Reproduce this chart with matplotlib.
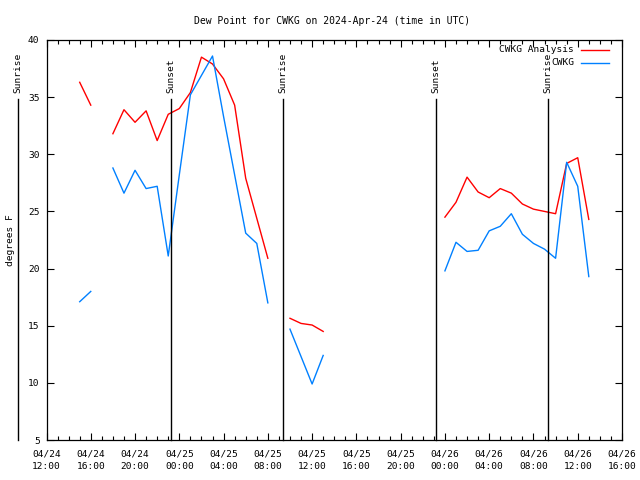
import numpy as np
import matplotlib
matplotlib.use("Agg")
import matplotlib.pyplot as plt
from matplotlib.ticker import MultipleLocator

plt.rcParams['font.family'] = ['DejaVu Sans Mono']

nan = np.nan
# hours since 2024-04-24 12:00 UTC
hours = list(range(3, 50))
analysis = [36.3, 34.3, nan, 31.8, 33.9, 32.8, 33.8, 31.2, 33.5, 34.0, 35.4, 38.5, 37.9, 36.6,
            34.3, 27.9, 24.4, 20.9, nan, 15.65, 15.2, 15.06, 14.5,
            nan, nan, nan, nan, nan, nan, nan, nan, nan, nan,
            24.5, 25.8, 28.0, 26.7, 26.2, 27.0, 26.6, 25.65, 25.2, 25.0, 24.8, 29.2, 29.7, 24.3]
observed = [17.1, 18.0, nan, 28.8, 26.6, 28.6, 27.0, 27.2, 21.1, 28.2, 35.2, 36.9, 38.6, 33.3,
            28.2, 23.1, 22.2, 17.0, nan, 14.7, 12.3, 9.9, 12.4,
            nan, nan, nan, nan, nan, nan, nan, nan, nan, nan,
            19.8, 22.3, 21.5, 21.6, 23.3, 23.7, 24.8, 23.0, 22.2, 21.7, 20.9, 29.3, 27.2, 19.3]

sun_events = ["Sunrise", "Sunset", "Sunrise", "Sunset", "Sunrise"]
sun_hours = [-2.57, 11.22, 21.36, 35.16, 45.33]

tick_hours = list(range(0, 53, 4))
tick_labels = ["04/24\n12:00", "04/24\n16:00", "04/24\n20:00", "04/25\n00:00", "04/25\n04:00",
               "04/25\n08:00", "04/25\n12:00", "04/25\n16:00", "04/25\n20:00", "04/26\n00:00",
               "04/26\n04:00", "04/26\n08:00", "04/26\n12:00", "04/26\n16:00"]

series_names = ["CWKG Analysis", "CWKG"]
colors = ["#ff0000", "#0080ff"]

fig = plt.figure(figsize=(6.4, 4.8), dpi=100)
L, R, T, B = 46.5, 622.0, 40.0, 440.0
ax = fig.add_axes([L / 640, 1 - B / 480, (R - L) / 640, (B - T) / 480])

ax.plot(hours, analysis, color=colors[0], lw=1)
ax.plot(hours, observed, color=colors[1], lw=1)

ax.set_xlim(0, 52)
ax.set_ylim(5, 40)

for name, h in zip(sun_events, sun_hours):
    ax.plot([h, h], [5, 34.85], color="black", lw=1, clip_on=False)
    ax.text(h, 35.35, name, rotation=90, ha="center", va="bottom", fontsize=6.8,
            clip_on=False)

ax.set_xticks(tick_hours)
ax.set_xticklabels(tick_labels, linespacing=1.45)
ax.xaxis.set_minor_locator(MultipleLocator(1))
ax.yaxis.set_major_locator(MultipleLocator(5))
ax.tick_params(axis="both", which="both", direction="in", top=True, right=True,
               labelsize=6.8, width=0.8)
ax.tick_params(axis="both", which="major", length=5)
ax.tick_params(axis="both", which="minor", length=3)
ax.tick_params(axis="x", pad=7)
ax.tick_params(axis="y", pad=5)
for s in ax.spines.values():
    s.set_linewidth(0.9)

fig.text(11 / 640, 0.5, "degrees F", rotation=90, ha="center", va="center", fontsize=6.8)
fig.text(332.5 / 640, 1 - 20.5 / 480, "Dew Point for CWKG on 2024-Apr-24 (time in UTC)",
         ha="center", va="center", fontsize=7)

# legend (gnuplot style: text right-aligned, sample on the right)
ly = [(B - 50) / (B - T), (B - 62.7) / (B - T)]
for name, c, y in zip(series_names, colors, ly):
    ax.text((574 - L) / (R - L), y, name, transform=ax.transAxes, ha="right", va="center",
            fontsize=6.8)
    ax.plot([(581 - L) / (R - L), (609.3 - L) / (R - L)], [y, y], transform=ax.transAxes,
            color=c, lw=1, clip_on=False)

fig.savefig("out.png", dpi=100)
